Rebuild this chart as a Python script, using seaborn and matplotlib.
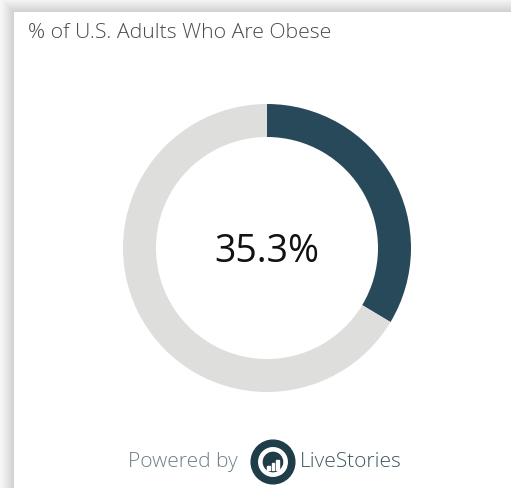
import matplotlib.pyplot as plt
import seaborn as sns
from matplotlib.patches import Circle, Rectangle, Wedge

# chart data (arc sizes as drawn in the picture, label as printed)
labels = ["Obese", "Not obese"]
arc_shares = [33.6, 66.4]
center_label = "35.3%"
title = "% of U.S. Adults Who Are Obese"

dark = "#27495a"
light = "#dededd"

sns.set_style("white")
plt.rcParams["font.family"] = ["Open Sans", "DejaVu Sans"]

W, H = 511, 489
fig = plt.figure(figsize=(W / 100, H / 100), dpi=100)
fig.patch.set_facecolor("#f6f6f6")

# card with a soft shadow on top/left
for i in range(12):
    fig.patches.append(Rectangle(((14 - 12 + i) / W, 0), 1, (H - 13 + 12 - i) / H,
                                 transform=fig.transFigure, facecolor="black",
                                 alpha=0.012, edgecolor="none", zorder=0))
fig.patches.append(Rectangle((14 / W, 0), 1, (H - 13) / H, transform=fig.transFigure,
                             facecolor="white", edgecolor="none", zorder=1))

fig.text(28 / W, 1 - 33 / H, title, fontsize=15.3, color="#4a4a4a",
         ha="left", va="center", fontweight="light", zorder=3)

# donut
cx, cy, r = 267, H - 249, 144
ax = fig.add_axes([(cx - r) / W, (cy - r) / H, 2 * r / W, 2 * r / H])
ax.set_zorder(5)
ax.patch.set_alpha(0)
ax.pie(arc_shares, labels=None, colors=[dark, light], startangle=90, counterclock=False,
       radius=1, wedgeprops=dict(width=33 / 144, edgecolor="none"))
ax.set_xlim(-1, 1)
ax.set_ylim(-1, 1)
ax.set_aspect("equal")
ax.axis("off")
ax.text(0, -0.02, center_label, ha="center", va="center", fontsize=27, color="#111111")

# footer
fig.text(238 / W, 1 - 462 / H, "Powered by", fontsize=15, color="#6b7f89",
         ha="right", va="center", fontweight="light", zorder=3)
fig.text(300 / W, 1 - 462 / H, "LiveStories", fontsize=15, color="#3f5660",
         ha="left", va="center", fontweight="light", zorder=3)

lx, ly, lr = 273, H - 463, 23
lax = fig.add_axes([(lx - lr) / W, (ly - lr) / H, 2 * lr / W, 2 * lr / H])
lax.set_zorder(5)
lax.patch.set_alpha(0)
lax.set_xlim(-1, 1)
lax.set_ylim(-1, 1)
lax.set_aspect("equal")
lax.axis("off")
lax.add_patch(Circle((0, 0), 0.95, color="#1f3d49"))
lax.add_patch(Wedge((0, 0), 0.62, 20, 340, width=0.14, color="white"))
lax.add_patch(Wedge((0, 0), 0.62, -60, 20, width=0.14, color="white"))
for bx, bh in zip([-0.2, 0.0, 0.2], [0.18, 0.3, 0.42]):
    lax.add_patch(Rectangle((bx - 0.06, -0.35), 0.12, bh, color="white"))

fig.savefig("out.png", dpi=100, facecolor=fig.get_facecolor())
